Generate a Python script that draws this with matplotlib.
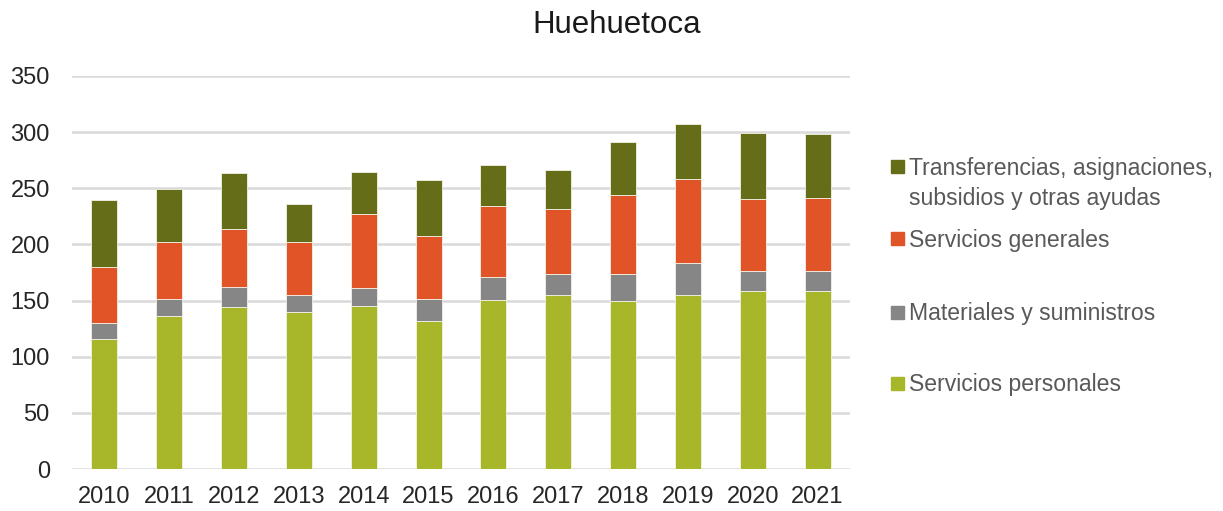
import numpy as np
import matplotlib.pyplot as plt
from matplotlib.patches import Rectangle

plt.rcParams['font.family'] = ['Liberation Sans', 'DejaVu Sans']

# ====== DATA ======
years = ["2010", "2011", "2012", "2013", "2014", "2015",
         "2016", "2017", "2018", "2019", "2020", "2021"]
servicios_personales = [115.6, 136.3, 144.0, 139.6, 145.2, 132.2,
                        150.6, 154.7, 149.7, 155.0, 158.3, 158.3]
materiales = [14.5, 14.9, 18.1, 15.4, 15.7, 19.0,
              20.1, 19.0, 24.0, 28.8, 18.3, 18.3]
servicios_generales = [49.8, 50.9, 51.6, 47.1, 65.8, 56.6,
                       63.1, 57.5, 69.9, 74.1, 63.8, 64.4]
transferencias = [59.3, 46.9, 49.5, 34.1, 37.4, 49.8,
                  36.5, 35.0, 48.0, 49.2, 58.4, 57.5]

series = [
    (["Servicios personales"], servicios_personales, "#a8b729"),
    (["Materiales y suministros"], materiales, "#868686"),
    (["Servicios generales"], servicios_generales, "#e05427"),
    (["Transferencias, asignaciones,", "subsidios y otras ayudas"], transferencias, "#666d18"),
]

W, H = 1223, 511
fig = plt.figure(figsize=(W / 100, H / 100), dpi=100)
ax = fig.add_axes([72 / W, 1 - 469 / H, (850 - 72) / W, (469 - 76) / H])

x = np.arange(len(years))
bottom = np.zeros(len(years))
for label, vals, color in series:
    vals = np.array(vals)
    ax.bar(x, vals, width=0.4, bottom=bottom, color=color,
           edgecolor="#f2f2e6", linewidth=0.6, zorder=3)
    bottom += vals

ax.set_xlim(-0.5, len(years) - 0.5)
ax.set_ylim(0, 350)
ax.set_yticks(np.arange(0, 351, 50))
ax.set_xticks(x)
ax.set_xticklabels(years)
ax.grid(axis="y", color="#d9d9d9", linewidth=1.8, zorder=0)
for s in ax.spines.values():
    s.set_visible(False)
ax.tick_params(axis="both", length=0, labelsize=17, colors="#262626")
ax.tick_params(axis="y", pad=16)
ax.tick_params(axis="x", pad=12)

fig.text(617 / W, 1 - 25 / H, "Huehuetoca", ha="center", va="center",
         fontsize=22.5, color="#1a1a1a")

# legend, Excel style, top entry first (handle sits on the first line)
fs = 16.6
cap = 0.72 * fs * 100 / 72
leg_y = [167, 239, 312, 383]
for (lines, vals, color), yc in zip(reversed(series), leg_y):
    fig.patches.append(Rectangle((891 / W, 1 - (yc + 6.5) / H), 13 / W, 13 / H,
                                 transform=fig.transFigure, color=color))
    for i, line in enumerate(lines):
        fig.text(909 / W, 1 - (yc + cap / 2 + 30 * i) / H, line,
                 ha="left", va="baseline", fontsize=fs, color="#595959")

fig.savefig("out.png", dpi=100)
